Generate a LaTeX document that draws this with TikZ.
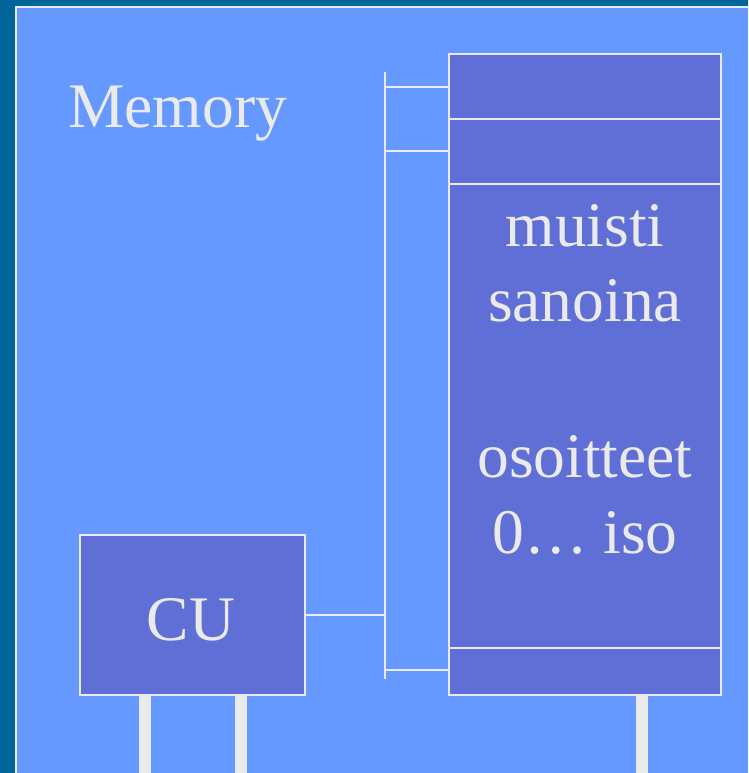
\documentclass[tikz,border=0pt]{standalone}
\usepackage{fontspec}
\setmainfont{Liberation Serif}
\definecolor{bgc}{HTML}{006699}
\definecolor{panelc}{HTML}{6699FF}
\definecolor{boxc}{HTML}{5F6FD6}
\definecolor{linec}{HTML}{EAEAEA}
\tikzset{
  box/.style={draw=linec, fill=boxc, line width=2.2pt, inner sep=0pt},
  wire/.style={draw=linec, line width=2.2pt},
  bar/.style={draw=linec, line width=12pt},
  lbl/.style={text=linec, font=\fontsize{63.5}{76}\selectfont, anchor=base, inner sep=0pt}
}
\begin{document}
\begin{tikzpicture}[x=1pt,y=-1pt]
\useasboundingbox (0,0) rectangle (748,773);
\fill[bgc] (0,0) rectangle (748,773);
\fill[panelc] (16,7) rectangle (748,773);
\draw[linec, line width=2pt] (16,773) -- (16,7) -- (748,7);
\coordinate (b1) at (145,773);
\coordinate (b2) at (241,773);
\coordinate (b3) at (641.5,773);
\node[box, minimum width=272pt, minimum height=641pt] (mem) at (585,374.5) {};
\node[box, minimum width=225pt, minimum height=160pt] (cu) at (192.5,615) {};
\draw[bar] (b1) -- (b1 |- cu.south);
\draw[bar] (b2) -- (b2 |- cu.south);
\draw[bar] (b3) -- (b3 |- mem.south);
\node[box, minimum width=272pt, minimum height=641pt] at (mem) {};
\node[box, minimum width=225pt, minimum height=160pt] at (cu) {};
\draw[wire] (mem.west |- 0,119) -- (mem.east |- 0,119);
\draw[wire] (mem.west |- 0,184) -- (mem.east |- 0,184);
\draw[wire] (mem.west |- 0,648) -- (mem.east |- 0,648);
\coordinate (bt) at (385,72);
\coordinate (bb) at (385,679);
\draw[wire] (bt) -- (bb);
\coordinate (t1) at (386,87);
\coordinate (t2) at (386,151);
\coordinate (t3) at (386,670);
\draw[wire] (t1) -- (t1 -| mem.west);
\draw[wire] (t2) -- (t2 -| mem.west);
\draw[wire] (t3) -- (t3 -| mem.west);
\draw[wire] (cu.east) -- (cu.east -| bt);
\node[lbl, anchor=base west] (memlbl) at (68,128) {Memory};
\node[lbl] (cutxt) at (191,640) {CU};
\node[lbl] (m1) at (585,246) {muisti};
\node[lbl] (m2) at (585,321) {sanoina};
\node[lbl] (m3) at (585,477) {osoitteet};
\node[lbl] (m4) at (585,553) {0… iso};
\end{tikzpicture}
\end{document}
